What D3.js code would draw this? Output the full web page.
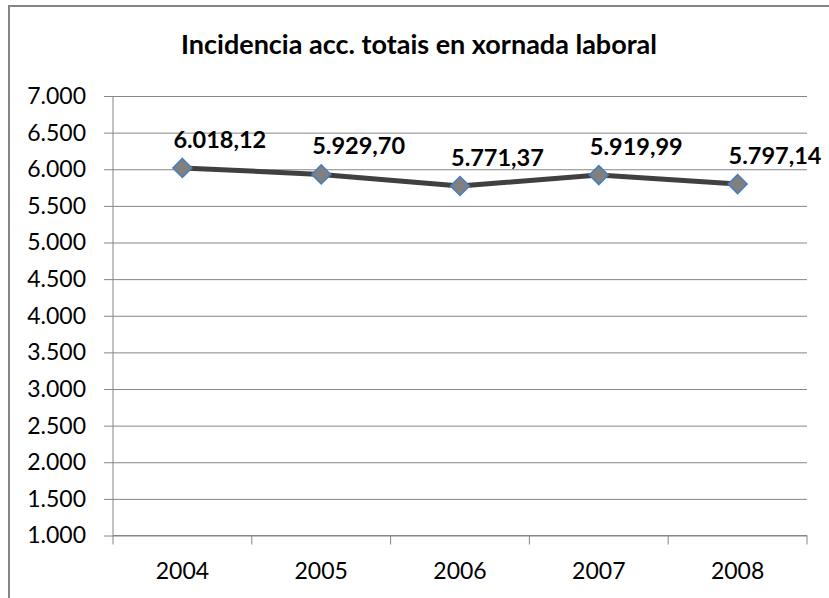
<!DOCTYPE html>
<html>
<head>
<meta charset="utf-8">
<script src="https://cdn.jsdelivr.net/npm/d3@7"></script>
<style>
  body { margin: 0; background: #fff; }
  svg { display: block; font-family: Lato, 'Open Sans', sans-serif; }
</style>
</head>
<body>
<div id="chart"></div>
<script>
// chart data
const title = 'Incidencia acc. totais en xornada laboral'
const years = ['2004', '2005', '2006', '2007', '2008']
const incidence = [6018.12, 5929.70, 5771.37, 5919.99, 5797.14]
const yTicks = [1000, 1500, 2000, 2500, 3000, 3500, 4000, 4500, 5000, 5500, 6000, 6500, 7000]

const W = 829, H = 598
const plot = {left: 113, right: 807, top: 96, bottom: 535.5}
const grey = '#868686'

// galician number format: '.' thousands, ',' decimals
const gl = d3.formatLocale({decimal: ',', thousands: '.', grouping: [3], currency: ['', ' €']})
const fmtTick = gl.format(',.0f')
const fmtLabel = gl.format(',.2f')

const svg = d3.select('#chart').append('svg')
    .attr('width', W)
    .attr('height', H)

// outer chart border (right/bottom fall outside the picture)
svg.append('rect')
    .attr('x', 9).attr('y', 6)
    .attr('width', W + 20).attr('height', H + 20)
    .attr('fill', 'none')
    .attr('stroke', grey)
    .attr('stroke-width', 2)

svg.append('text')
    .attr('x', 419).attr('y', 54)
    .attr('text-anchor', 'middle')
    .attr('font-weight', 'bold')
    .attr('font-size', 27)
    .text(title)

const x = d3.scaleBand().domain(years).range([plot.left, plot.right])
const y = d3.scaleLinear().domain([1000, 7000]).range([plot.bottom, plot.top])

// gridlines + y axis
const yAxis = svg.append('g')
    .attr('transform', `translate(${plot.left},0)`)
    .call(d3.axisLeft(y).tickValues(yTicks).tickFormat(fmtTick).tickSize(9).tickPadding(18))
yAxis.select('.domain').attr('stroke', grey).attr('d', `M0,${plot.top}V${plot.bottom}`)
yAxis.selectAll('.tick line').attr('stroke', grey)
yAxis.selectAll('.tick').append('line')
    .attr('x2', plot.right - plot.left)
    .attr('stroke', grey)
yAxis.selectAll('.tick text')
    .attr('fill', '#000')
    .attr('font-size', 23)
    .attr('font-family', 'Lato, sans-serif')

// x axis with ticks between categories
const xAxis = svg.append('g')
    .attr('transform', `translate(0,${plot.bottom})`)
    .call(d3.axisBottom(x).tickSize(0).tickPadding(27))
xAxis.select('.domain').remove()
xAxis.append('line')
    .attr('x1', plot.left).attr('x2', plot.right)
    .attr('stroke', grey)
xAxis.selectAll('.sep').data(d3.range(years.length + 1)).enter().append('line')
    .attr('class', 'sep')
    .attr('x1', i => plot.left + i * x.step())
    .attr('x2', i => plot.left + i * x.step())
    .attr('y2', 9)
    .attr('stroke', grey)
xAxis.selectAll('.tick text')
    .attr('fill', '#000')
    .attr('font-size', 23)
    .attr('font-family', 'Lato, sans-serif')

const cx = (d, i) => x(years[i]) + x.bandwidth() / 2

const line = d3.line()
    .x((d, i) => cx(d, i))
    .y(d => y(d))

svg.append('path')
    .datum(incidence)
    .attr('d', line)
    .attr('fill', 'none')
    .attr('stroke', '#404040')
    .attr('stroke-width', 5)
    .attr('stroke-linejoin', 'round')

svg.append('g').selectAll('path').data(incidence).enter().append('path')
    .attr('d', d3.symbol(d3.symbolDiamond2, 230))
    .attr('transform', (d, i) => `translate(${cx(d, i)},${y(d)})`)
    .attr('fill', '#808080')
    .attr('stroke', '#4a7ebb')
    .attr('stroke-width', 1.5)

svg.append('g').selectAll('text').data(incidence).enter().append('text')
    .attr('x', (d, i) => cx(d, i) - 9)
    .attr('y', d => y(d) - 20)
    .attr('font-weight', 'bold')
    .attr('font-size', 23.5)
    .attr('fill', '#000')
    .text(d => fmtLabel(d))
</script>
</body>
</html>
